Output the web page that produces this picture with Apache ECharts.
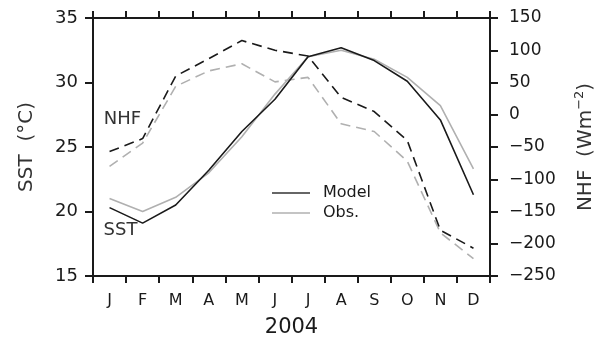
<!DOCTYPE html>
<html>
<head>
<meta charset="utf-8">
<script src="https://cdn.jsdelivr.net/npm/echarts@6/dist/echarts.min.js"></script>
<style>
  html, body { margin: 0; padding: 0; background: #fff; }
  #chart { width: 596px; height: 340px; }
</style>
</head>
<body>
<div id="chart"></div>
<script>
// Monthly climatology for 2004: sea surface temperature (left axis) and net heat flux (right axis)
const months = ['J', 'F', 'M', 'A', 'M', 'J', 'J', 'A', 'S', 'O', 'N', 'D'];
const sstModel = [20.3, 19.1, 20.5, 23.2, 26.2, 28.7, 32.0, 32.7, 31.7, 30.1, 27.1, 21.3];
const sstObs   = [21.0, 20.0, 21.1, 23.0, 25.8, 29.1, 32.0, 32.5, 31.8, 30.4, 28.2, 23.3];
const nhfModel = [-57, -37, 60, 87, 115, 100, 91, 27, 5, -40, -179, -207];
const nhfObs   = [-80, -44, 44, 68, 79, 51, 58, -14, -26, -72, -183, -223];
const sstTicks = { min: 15, max: 35, step: 5 };
const nhfTicks = { min: -250, max: 150, step: 50 };

const FONT = 'DejaVu Sans';
const INK = '#1a1a1a';
const GREY = '#b0b0b0';

// Text tag anchored on the January point of a series
function janTag(values, text, offset) {
  return {
    silent: true,
    symbol: 'circle', symbolSize: 1,
    itemStyle: { color: 'rgba(0,0,0,0)' },
    data: [{
      coord: [0, values[0]],
      label: {
        show: true, formatter: text, position: 'inside', offset: offset,
        fontFamily: FONT, fontSize: 18, color: '#333'
      }
    }]
  };
}

const axisLineStyle = { show: true, onZero: false, lineStyle: { color: INK, width: 2 } };
const tickStyle = { show: true, inside: false, length: 7, lineStyle: { color: INK, width: 2 } };
const minus = v => String(v).replace('-', '\u2212');

const chart = echarts.init(document.getElementById('chart'), null, { renderer: 'canvas' });
chart.setOption({
  animation: false,
  backgroundColor: '#fff',
  grid: { left: 93, right: 106, top: 18, bottom: 64, containLabel: false, outerBoundsMode: 'none' },
  legend: {
    orient: 'vertical',
    left: 272, top: 185, padding: 0,
    itemWidth: 38, itemHeight: 1.5, itemGap: 4,
    icon: 'rect',
    textStyle: { fontFamily: FONT, fontSize: 16, color: INK, padding: [0, 0, 0, 8], lineHeight: 16 },
    data: [
      { name: 'Model', itemStyle: { color: '#333' } },
      { name: 'Obs.', itemStyle: { color: GREY } }
    ]
  },
  xAxis: [
    {
      type: 'category', position: 'bottom', data: months, boundaryGap: true,
      axisLine: axisLineStyle, axisTick: tickStyle,
      axisLabel: { fontFamily: FONT, fontSize: 16, color: INK, margin: 17 },
      name: '2004', nameLocation: 'middle', nameGap: 41,
      nameTextStyle: { fontFamily: FONT, fontSize: 21, color: INK }
    },
    {
      type: 'category', position: 'top', data: months, boundaryGap: true,
      axisLine: axisLineStyle, axisTick: tickStyle,
      axisLabel: { show: false }
    }
  ],
  yAxis: [
    {
      type: 'value', position: 'left',
      min: sstTicks.min, max: sstTicks.max, interval: sstTicks.step,
      axisLine: axisLineStyle,
      axisTick: { show: true, inside: false, length: 8, lineStyle: { color: INK, width: 2 } },
      axisLabel: { fontFamily: FONT, fontSize: 18, color: INK, margin: 15 },
      splitLine: { show: false },
      name: 'SST  (\u00B0C)', nameLocation: 'middle', nameGap: 56, nameRotate: 90,
      nameTextStyle: { fontFamily: FONT, fontSize: 20, color: '#333' }
    },
    {
      type: 'value', position: 'right',
      min: nhfTicks.min, max: nhfTicks.max, interval: nhfTicks.step,
      axisLine: axisLineStyle,
      axisTick: { show: true, inside: false, length: 8, lineStyle: { color: INK, width: 2 } },
      axisLabel: { fontFamily: FONT, fontSize: 17, color: INK, margin: 19, formatter: minus },
      splitLine: { show: false },
      name: '{a|NHF  (Wm}{s|\u22122}{a|)}', nameLocation: 'middle', nameGap: 83, nameRotate: 90,
      nameTextStyle: {
        fontFamily: FONT, fontSize: 20, color: '#333',
        rich: {
          a: { fontFamily: FONT, fontSize: 20, color: '#333' },
          s: { fontFamily: FONT, fontSize: 13, color: '#333', verticalAlign: 'top', padding: [0, 0, 12, 0] }
        }
      }
    }
  ],
  series: [
    {
      name: 'Obs.', type: 'line', xAxisIndex: 0, yAxisIndex: 1,
      data: nhfObs, symbol: 'none', silent: true,
      lineStyle: { color: GREY, width: 1.6, type: [10, 6] }, itemStyle: { color: GREY }
    },
    {
      name: 'Obs.', type: 'line', xAxisIndex: 0, yAxisIndex: 0,
      data: sstObs, symbol: 'none', silent: true,
      lineStyle: { color: GREY, width: 1.6 }, itemStyle: { color: GREY }
    },
    {
      name: 'Model', type: 'line', xAxisIndex: 0, yAxisIndex: 1,
      data: nhfModel, symbol: 'none', silent: true,
      lineStyle: { color: INK, width: 1.6, type: [10, 6] }, itemStyle: { color: INK },
      markPoint: janTag(nhfModel, 'NHF', [13, -32])
    },
    {
      name: 'Model', type: 'line', xAxisIndex: 0, yAxisIndex: 0,
      data: sstModel, symbol: 'none', silent: true,
      lineStyle: { color: INK, width: 1.6 }, itemStyle: { color: '#333' },
      markPoint: janTag(sstModel, 'SST', [11, 23])
    }
  ]
});
</script>
</body>
</html>
